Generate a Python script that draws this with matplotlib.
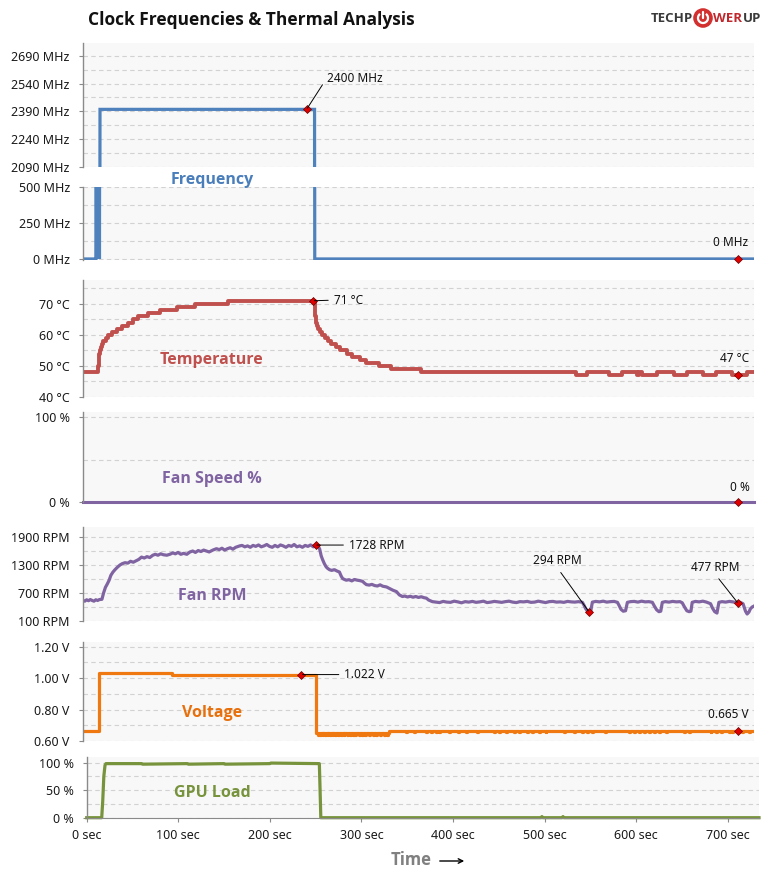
import matplotlib
matplotlib.use('Agg')
import matplotlib.pyplot as plt
from matplotlib.patches import Circle, Arc, FancyArrowPatch
from matplotlib.ticker import FuncFormatter
import numpy as np

W, H = 769, 881
plt.rcParams['font.family'] = ['Noto Sans', 'DejaVu Sans']
BOLD_FAMILY = ['Open Sans', 'DejaVu Sans']

XMAX = 734
# ---------------- data ----------------
freq_time = [0, 14.2, 14.5, 14.8, 15.3, 15.6, 16.1, 16.4, 16.9, 17.2, 17.7, 18.0, 18.6, 253.3, 253.5, 734]
freq_mhz = [0, 0, 1000, 0, 1050, 0, 1100, 0, 950, 0, 1200, 0, 2400, 2400, 0, 0]

temp_time = [0, 16.7, 17.2, 17.7, 18.5, 19.9, 21.1, 22.2, 25.2, 27.6,
             31.3, 37.2, 43.0, 49.0, 54.5, 60.4, 71.3, 84.1, 102.3, 122.3,
             158.7, 254.1, 255.2, 255.9, 257.2, 258.8, 261.0, 264.3, 267.5, 271.4,
             276.3, 280.6, 288.3, 294.8, 302.5, 310.1, 324.3, 337.4, 370.2, 539.1,
             551.8, 575.5, 590.0, 606.4, 608.2, 611.8, 628.2, 646.4, 661.0, 678.1,
             692.0, 710.1, 726.5, 734]
temp_c = [48, 50, 52, 54, 55, 56, 57, 58, 59, 60,
          61, 62, 63, 64, 65, 66, 67, 68, 69, 70,
          71, 66, 64, 63, 62, 61, 60, 59, 58, 57,
          56, 55, 54, 53, 52, 51, 50, 49, 48, 47,
          48, 47, 48, 47, 48, 47, 48, 47, 48, 47,
          48, 47, 48, 48]

fan_time = [0, 734]
fan_pct = [0, 0]

rpm_time = [0, 2, 4, 6, 8, 10, 12, 14, 16, 18, 20.7,
            22.5, 24.5, 26.2, 28.5, 30.5, 32.8, 35, 37.5, 40.4, 43, 46, 49, 52, 55, 58, 61, 64, 67, 70, 73,
            76.4, 79, 82, 85, 88, 91.7, 95, 98.3, 101, 104, 107, 110, 113.6, 117, 120, 123, 126, 129, 132, 135,
            138, 142, 146, 149, 152, 155, 158, 161, 164, 167, 171.4, 174, 177, 180, 183, 186, 189, 192, 195, 198,
            201, 204, 207, 210, 213, 216, 219, 222, 225, 228, 231, 234, 237, 240, 243, 246, 249, 252, 254.4, 256.5,
            258.8, 260.5, 262, 264, 266, 267.5, 269.6, 272, 275, 278, 280.5, 282.5, 284, 286, 288, 291, 294, 297,
            300, 303, 305.8, 308, 310, 313, 316, 319, 322, 325, 328, 332, 335, 339, 342.9, 346, 349.4, 352, 355,
            358, 361, 364, 367, 370, 373, 375.6, 378, 382.2,
            386, 390, 394, 398, 402, 406, 410, 414, 418, 422, 426, 430, 434, 438, 442, 446, 450, 454, 458, 462,
            466, 470, 474, 478, 482, 486, 490, 494, 498, 502, 506, 510, 514, 518, 522, 526, 530, 534, 538, 542, 546.3,
            548, 550, 552, 553.6, 555.5, 557.2, 561, 565, 569, 573, 577, 581, 584.6, 586.5, 588.5, 591, 593.5, 595.5,
            599, 603, 607, 611, 615, 619, 622.8, 625, 627.5, 630, 632, 633.7, 637, 641, 645, 649, 653, 655.5, 658,
            660.5, 663, 665, 666.4, 670, 674, 678, 682, 686.5, 688.5, 691, 693.5, 695.6, 699, 703, 707, 711, 714,
            716.7, 719, 722, 724.7, 726.5, 728.4, 730, 732, 734]
rpm_val = [545, 525, 555, 535, 560, 540, 525, 555, 540, 560, 565,
           700, 820, 880, 970, 1080, 1150, 1200, 1250, 1300, 1330, 1350, 1340, 1380, 1360, 1390, 1420, 1470, 1450, 1480, 1460,
           1510, 1530, 1510, 1540, 1520, 1510, 1530, 1560, 1540, 1570, 1530, 1550, 1530, 1580, 1600, 1570, 1610, 1590, 1620, 1600,
           1580, 1620, 1650, 1630, 1660, 1620, 1650, 1670, 1640, 1680, 1710, 1720, 1690, 1710, 1680, 1720, 1700, 1730, 1690, 1710,
           1740, 1700, 1680, 1720, 1690, 1730, 1710, 1680, 1720, 1700, 1740, 1690, 1710, 1680, 1720, 1700, 1730, 1690, 1728, 1710,
           1650, 1500, 1420, 1330, 1260, 1230, 1200, 1185, 1200, 1170, 1150, 1060, 1010, 990, 975, 985, 960, 990,
           975, 965, 950, 910, 880, 870, 885, 860, 850, 875, 845, 830, 800, 760, 730, 660, 625, 635, 615,
           630, 610, 625, 605, 620, 600, 590, 550, 515,
           505, 495, 520, 505, 500, 525, 510, 490, 515, 505, 520, 500, 510, 525, 495, 505, 520, 510, 500, 515,
           525, 505, 495, 515, 510, 520, 500, 505, 525, 510, 495, 515, 520, 505, 510, 500, 520, 510, 505, 515, 500,
           440, 360, 310, 294, 320, 505, 520, 510, 525, 505, 515, 520, 500, 430, 350, 310, 320, 500,
           515, 520, 505, 525, 510, 515, 500, 420, 340, 300, 310, 500, 515, 505, 520, 510, 515, 490, 400,
           320, 300, 310, 500, 520, 510, 525, 505, 470, 380, 300, 270, 500, 515, 505, 520, 510, 495,
           480, 500, 470, 310, 250, 290, 360, 400, 420]

volt_step_time = [0, 17.5, 96.9, 255.2, 335, 734]
volt_step_v = [0.665, 1.030, 1.022, 0.648, 0.665, 0.665]
volt_dip_time_a = [257, 259.5, 262, 265, 267.5, 270, 273, 276, 279, 282, 285, 288.5, 292, 295, 298,
                   301.5, 305, 309, 313, 317, 321, 325, 329, 333]
volt_dip_a = 0.637
volt_dip_time_b = [353, 362.5, 375, 380.5, 386, 389.5, 400.5, 410, 419, 431.5, 450, 455.5, 462.5, 471.5,
                   477, 486, 491.5, 499, 506, 526, 537, 546, 551.5, 557, 571.5, 597, 602.5, 608, 613.5,
                   619, 624.5, 630, 637.5, 657.5, 663, 686.5, 692, 697.5, 706.5, 710, 721, 728.5]
volt_dip_b = 0.655

gpu_time = [0, 16.4, 17.5, 18.7, 20, 21, 60, 61, 110, 111, 150, 151, 200, 201, 254, 254.8, 255.6,
            496, 497, 498, 519, 520, 521, 734]
gpu_pct = [0, 0, 30, 75, 95, 98, 98, 97, 98, 97, 98, 97, 98, 99, 98, 50, 0, 0, 2, 0, 0, 2, 0, 0]

x_ticks = [0, 100, 200, 300, 400, 500, 600, 700]

# annotations: (time, value, label)
ann_freq = [(244.6, 2400, '2400 MHz'), (716.7, 0, '0 MHz')]
ann_temp = [(251.5, 71, '71 °C'), (716.7, 47, '47 °C')]
ann_fan = [(716.7, 0, '0 %')]
ann_rpm = [(254.4, 1728, '1728 RPM'), (553.6, 294, '294 RPM'), (716.7, 477, '477 RPM')]
ann_volt = [(238.8, 1.022, '1.022 V'), (716.7, 0.665, '0.665 V')]

# ---------------- build voltage series ----------------
def base_volt(t):
    i = np.searchsorted(volt_step_time, t, side='right') - 1
    return volt_step_v[i]

vpts = list(zip(volt_step_time, volt_step_v))
for d in volt_dip_time_a:
    vpts += [(d, volt_dip_a), (d + 1.0, base_volt(d))]
for d in volt_dip_time_b:
    vpts += [(d, volt_dip_b), (d + 1.0, base_volt(d))]
vpts.sort()
volt_t = [p[0] for p in vpts]
volt_v = [p[1] for p in vpts]

# ---------------- figure ----------------
fig = plt.figure(figsize=(W / 100, H / 100), dpi=100)

def px_axes(l, t, r, b):
    return fig.add_axes([l / W, 1 - b / H, (r - l) / W, (b - t) / H])

GRID = '#d2d2d2'
SPINE = '#8a8a8a'

def style(ax, ylim, major, minor, fmt):
    ax.set_facecolor('#f8f8f8')
    ax.set_xlim(0, XMAX)
    ax.set_ylim(*ylim)
    for s in ['top', 'right', 'bottom']:
        ax.spines[s].set_visible(False)
    ax.spines['left'].set_color(SPINE)
    ax.spines['left'].set_linewidth(1.0)
    ax.set_yticks(major)
    ax.set_yticks(minor, minor=True)
    ax.yaxis.set_major_formatter(FuncFormatter(fmt))
    ax.tick_params(axis='y', which='major', length=3, width=0.8, color=SPINE, pad=6.5,
                   labelsize=9, labelcolor='#1a1a1a')
    ax.tick_params(axis='y', which='minor', length=0)
    ax.grid(axis='y', which='both', color=GRID, lw=0.8, ls=(0, (4, 3)))
    ax.set_axisbelow(True)
    ax.tick_params(axis='x', which='both', bottom=False, labelbottom=False)

def mark(ax, t, v, label, off, ha='center', leader=False, relpos=(0.5, 0.5)):
    ax.plot([t], [v], marker='D', ms=3.6, color='#e00000', mec='#6a0000', mew=0.5,
            zorder=6, clip_on=False, ls='none')
    kw = dict(xy=(t, v), xytext=off, textcoords='offset points', ha=ha, va='center',
              fontsize=8.5, color='#111111', zorder=7, annotation_clip=False)
    if leader:
        kw['arrowprops'] = dict(arrowstyle='-', color='black', lw=0.7, shrinkA=2, shrinkB=1,
                                relpos=relpos)
    ax.annotate(label, **kw)

L, R = 83, 754

# Frequency upper
ax_fh = px_axes(L, 43, R, 166.5)
style(ax_fh, (2090, 2760), [2090, 2240, 2390, 2540, 2690], [2165, 2315, 2465, 2615],
      lambda v, p: f'{int(v)} MHz')
ax_fh.plot(freq_time, freq_mhz, color='#4f81bd', lw=2.3, solid_joinstyle='miter')
t, v, lab = ann_freq[0]
mark(ax_fh, t, v, lab, (14.5, 22.5), ha='left', leader=True, relpos=(0, 0.5))

# Frequency lower
ax_fl = px_axes(L, 186.7, R, 260.4)
style(ax_fl, (-10, 500), [0, 250, 500], [125, 375], lambda v, p: f'{int(v)} MHz')
ax_fl.plot(freq_time, freq_mhz, color='#4f81bd', lw=2.3, solid_joinstyle='miter')
t, v, lab = ann_freq[1]
mark(ax_fl, t, v, lab, (-5.3, 11.5))

# Temperature
ax_t = px_axes(L, 280, R, 397)
style(ax_t, (40, 77.7), [40, 50, 60, 70], [45, 55, 65, 75], lambda v, p: f'{int(v)} °C')
ax_t.plot(temp_time, temp_c, color='#c0504d', lw=2.8, drawstyle='steps-post')
t, v, lab = ann_temp[0]
mark(ax_t, t, v, lab, (15, 0.5), ha='left', leader=True, relpos=(0, 0.5))
t, v, lab = ann_temp[1]
mark(ax_t, t, v, lab, (-2.4, 12.2))

# Fan speed %
ax_s = px_axes(L, 412, R, 502)
style(ax_s, (0, 105.9), [0, 100], [50], lambda v, p: f'{int(v)} %')
ax_s.plot(fan_time, fan_pct, color='#8064a2', lw=2.2, clip_on=False)
t, v, lab = ann_fan[0]
mark(ax_s, t, v, lab, (1.2, 10.8))

# Fan RPM
ax_r = px_axes(L, 527, R, 621)
style(ax_r, (100, 2115), [100, 700, 1300, 1900], [400, 1000, 1600], lambda v, p: f'{int(v)} RPM')
ax_r.plot(rpm_time, rpm_val, color='#8064a2', lw=2.3)
t, v, lab = ann_rpm[0]
mark(ax_r, t, v, lab, (24, 0), ha='left', leader=True, relpos=(0, 0.5))
t, v, lab = ann_rpm[1]
mark(ax_r, t, v, lab, (-23, 36.7), leader=True, relpos=(0.5, 0))
t, v, lab = ann_rpm[2]
mark(ax_r, t, v, lab, (-16.8, 26), leader=True, relpos=(0.5, 0))

# Voltage
ax_v = px_axes(L, 642, R, 741)
style(ax_v, (0.6, 1.229), [0.6, 0.8, 1.0, 1.2], [0.7, 0.9, 1.1], lambda v, p: f'{v:.2f} V')
ax_v.plot(volt_t, volt_v, color='#f07810', lw=2.3, drawstyle='steps-post')
t, v, lab = ann_volt[0]
mark(ax_v, t, v, lab, (31, 0), ha='left', leader=True, relpos=(0, 0.5))
t, v, lab = ann_volt[1]
mark(ax_v, t, v, lab, (-7.4, 11.5))

# GPU Load
ax_g = px_axes(86.7, 757, 759, 817.7)
style(ax_g, (0, 110), [0, 50, 100], [25, 75], lambda v, p: f'{int(v)} %')
ax_g.plot(gpu_time, gpu_pct, color='#77933c', lw=2.3, clip_on=False)
ax_g.spines['bottom'].set_visible(True)
ax_g.spines['bottom'].set_color(SPINE)
ax_g.set_xticks(x_ticks)
ax_g.set_xticklabels([f'{x} sec' for x in x_ticks])
ax_g.tick_params(axis='x', which='major', bottom=True, labelbottom=True, length=3, width=0.8,
                 color=SPINE, pad=5, labelsize=9, labelcolor='#1a1a1a')

# Panel labels
def flabel(x, y, s, c, size=11.5):
    fig.text(x / W, 1 - y / H, s, color=c, fontsize=size, weight='bold', ha='center', va='center',
             family=BOLD_FAMILY)

flabel(212, 180, 'Frequency', '#4a7ebb')
flabel(212, 360, 'Temperature', '#c0504d')
flabel(212, 479, 'Fan Speed %', '#8064a2')
flabel(212, 596, 'Fan RPM', '#8064a2')
flabel(212, 713, 'Voltage', '#e8700c')
flabel(212, 793, 'GPU Load', '#77933c')

# Title
fig.text(88 / W, 1 - 20 / H, 'Clock Frequencies & Thermal Analysis', fontsize=12.5, weight='bold',
         color='#111111', ha='left', va='center', family=BOLD_FAMILY)

# Time axis label
fig.text(411 / W, 1 - 860 / H, 'Time', fontsize=12, weight='bold', color='#808080', ha='center',
         va='center', family=BOLD_FAMILY)
fig.add_artist(FancyArrowPatch((437 / W, 1 - 861 / H), (467 / W, 1 - 861 / H), transform=fig.transFigure,
                               arrowstyle='->', mutation_scale=8, lw=1.0, color='black'))

# Logo
fig.text(693 / W, 1 - 18 / H, 'TECHP', fontsize=9.5, weight='bold', color='#3a3a3a', ha='right',
         va='center', family=BOLD_FAMILY)
t_wer = fig.text(713 / W, 1 - 18 / H, 'WER', fontsize=9.5, weight='bold', color='#c0282d', ha='left',
                 va='center', family=BOLD_FAMILY)
renderer = fig.canvas.get_renderer()
bb = t_wer.get_window_extent(renderer=renderer)
fig.text((bb.x1 + 0.5) / W, 1 - 18 / H, 'UP', fontsize=9.5, weight='bold', color='#3a3a3a', ha='left',
         va='center', family=BOLD_FAMILY)
axl = px_axes(693, 8, 713, 28)
axl.set_xlim(-1.1, 1.1)
axl.set_ylim(-1.1, 1.1)
axl.axis('off')
axl.add_patch(Circle((0, 0), 1.0, color='#d32f2f'))
axl.add_patch(Arc((0, 0), 1.1, 1.1, theta1=125, theta2=55, color='white', lw=1.6))
axl.plot([0, 0], [0.0, 0.7], color='white', lw=1.6, solid_capstyle='round')

fig.savefig('out.png', dpi=100)
